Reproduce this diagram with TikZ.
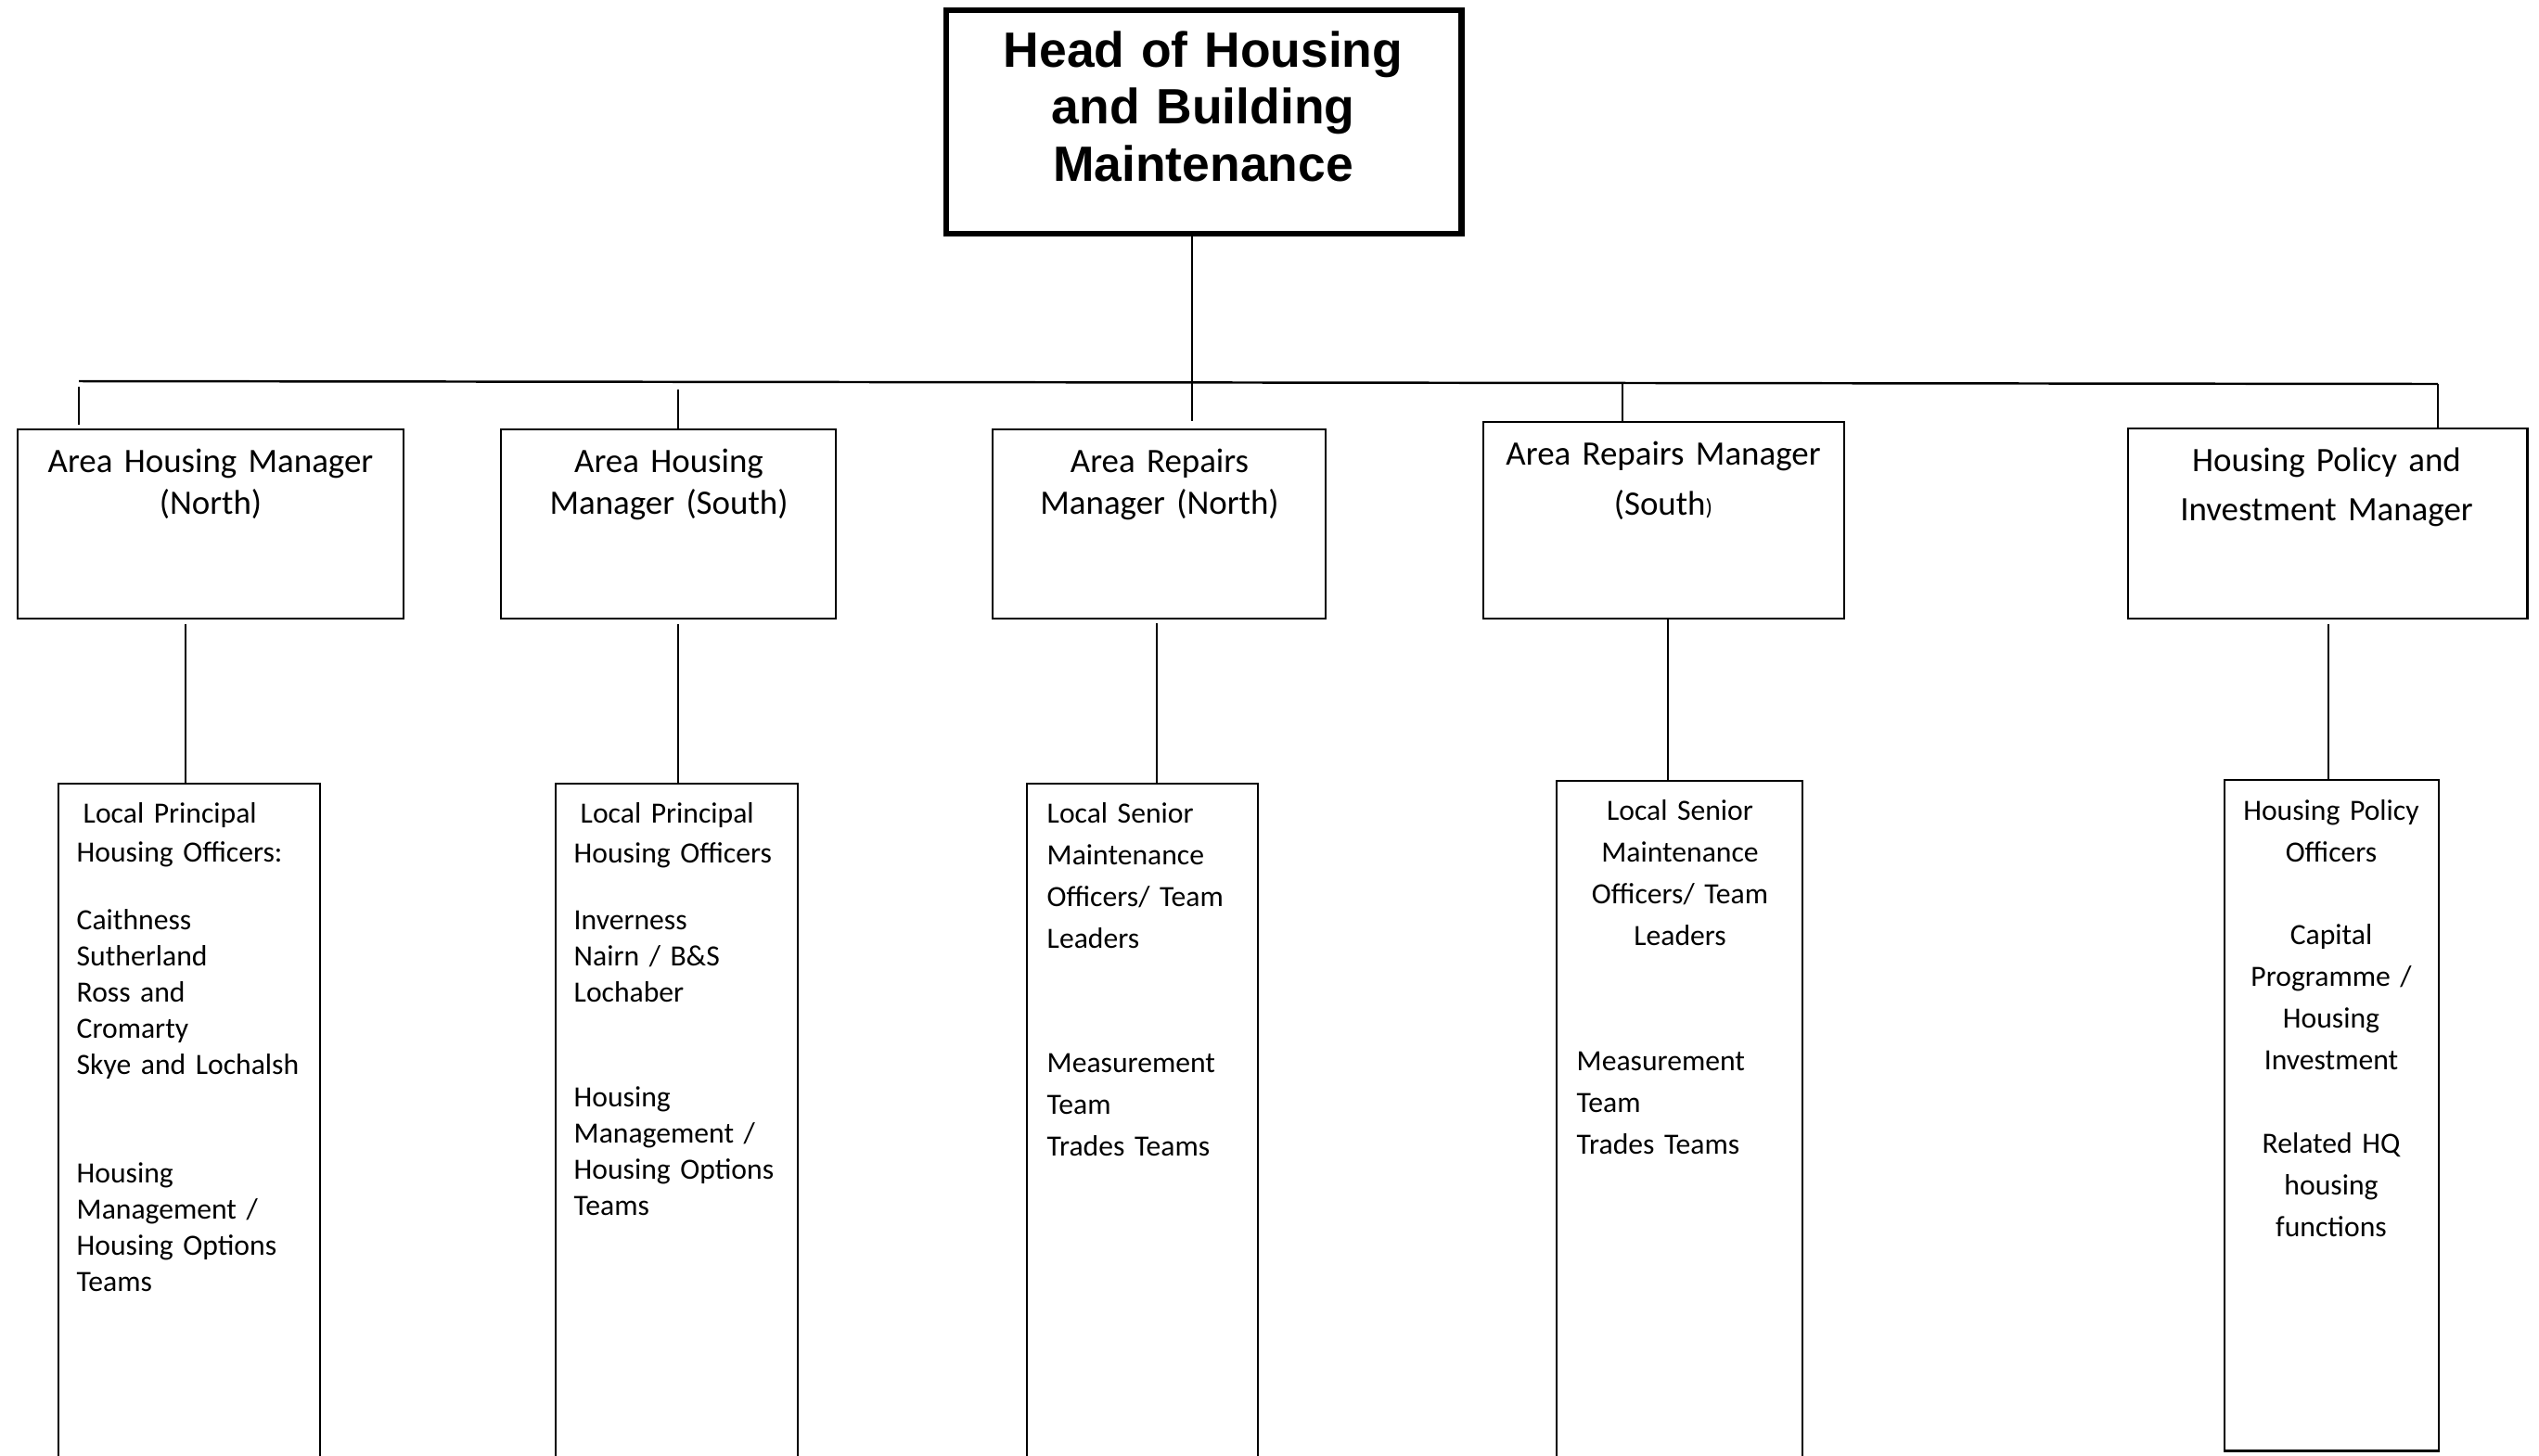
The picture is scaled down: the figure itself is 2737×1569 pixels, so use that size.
\documentclass[tikz,border=0pt]{standalone}
\usepackage{fontspec}
\setmainfont[WordSpace=0.85]{Carlito}
\newfontfamily\headfont{Liberation Sans}
\begin{document}
\begin{tikzpicture}[x=0.01cm,y=-0.01cm]
\tikzset{
  headbox/.style={draw, line width=1.9pt, inner sep=0pt, outer sep=0pt, anchor=north west},
  mgrbox/.style={draw, line width=0.7pt, inner sep=0pt, outer sep=0pt, anchor=north west},
  teambox/.style={draw, line width=0.65pt, inner sep=0pt, outer sep=0pt, anchor=north west},
  conn/.style={line width=0.55pt},
  barline/.style={line width=0.7pt},
  headtext/.style={font=\headfont\bfseries\fontsize{15.2}{17.6}\selectfont, align=center, text width=5.2cm, inner sep=0pt, anchor=base},
  mgrtext/.style={font=\fontsize{10.5}{12.8}\selectfont, align=center, text width=4cm, inner sep=0pt, anchor=base},
  teamtext/.style={font=\fontsize{9}{11.1}\selectfont, align=left, text width=3cm, inner sep=0pt, anchor=base west},
  teamtextwide/.style={font=\fontsize{9}{12.8}\selectfont, align=left, text width=3cm, inner sep=0pt, anchor=base west},
  teamtextc/.style={font=\fontsize{9}{12.8}\selectfont, align=center, text width=2.6cm, inner sep=0pt, anchor=base},
}
\useasboundingbox (0,0) rectangle (2737,1569);
\clip (0,0) rectangle (2737,1569);
\fill[white] (0,0) rectangle (2737,1569);

% head of service
\node[headbox, minimum width=5.55cm, minimum height=2.41cm] (head) at (1020,11) {};
\node[headtext] (headlbl) at (1297,72) {Head of Housing\\and Building\\Maintenance};

% manager boxes
\node[mgrbox, minimum width=4.16cm, minimum height=2.04cm] (m1) at (19,463) {};
\node[mgrbox, minimum width=3.61cm, minimum height=2.04cm] (m2) at (540,463) {};
\node[mgrbox, minimum width=3.59cm, minimum height=2.04cm] (m3) at (1070,463) {};
\node[mgrbox, minimum width=3.89cm, minimum height=2.12cm] (m4) at (1599,455) {};
\node[mgrbox, minimum width=4.30cm, minimum height=2.05cm] (m5) at (2294,462) {};

\node[mgrtext] (m1lbl) at (227,509) {Area Housing Manager\\(North)};
\node[mgrtext] (m2lbl) at (721,509) {Area Housing\\Manager (South)};
\node[mgrtext] (m3lbl) at (1250,509) {Area Repairs\\Manager (North)};
\node[mgrtext] (m4lbl) at (1793,501) {Area Repairs Manager\\[2.6pt](South{\fontsize{7}{8}\selectfont)}};
\node[mgrtext] (m5lbl) at (2508,508) {Housing Policy and\\[2.3pt]Investment Manager};

% team boxes
\node[teambox, minimum width=2.82cm, minimum height=7.6cm] (t1) at (63,845) {};
\node[teambox, minimum width=2.61cm, minimum height=7.6cm] (t2) at (599,845) {};
\node[teambox, minimum width=2.49cm, minimum height=7.6cm] (t3) at (1107,845) {};
\node[teambox, minimum width=2.65cm, minimum height=7.6cm] (t4) at (1678,842) {};
\node[teambox, minimum width=2.31cm, minimum height=7.23cm] (t5) at (2398,841) {};

\node[teamtext] (t1lbl) at (82,887) {\hspace*{2pt}Local Principal\\[1.1pt]Housing Officers:\\[9.4pt]Caithness\\Sutherland\\Ross and\\Cromarty\\Skye and Lochalsh\\[22.2pt]Housing\\Management /\\Housing Options\\Teams};
\node[teamtext] (t2lbl) at (618,887) {\hspace*{2pt}Local Principal\\[1.2pt]Housing Officers\\[9.4pt]Inverness\\Nairn / B\&S\\Lochaber\\[21pt]Housing\\Management /\\Housing Options\\Teams};
\node[teamtextwide] (t3lbl) at (1128,887) {Local Senior\\Maintenance\\Officers/ Team\\Leaders\\[25.3pt]Measurement\\Team\\Trades Teams};
\node[teamtextc] (t4lbla) at (1811,884) {Local Senior\\Maintenance\\Officers/ Team\\Leaders};
\node[teamtextwide] (t4lblb) at (1699,1154) {Measurement\\Team\\Trades Teams};
\node[teamtextc] (t5lbl) at (2513,884) {Housing Policy\\Officers\\[12.7pt]Capital\\Programme /\\Housing\\Investment\\[12.7pt]Related HQ\\housing\\functions};

% connectors from the head down to the horizontal bar
\coordinate (trunk) at (1285,454);
\coordinate (barL) at (85,411);
\coordinate (barR) at (2628,414);
\coordinate (d1top) at (85,417);
\coordinate (d1bot) at (85,458);
\coordinate (d2top) at (731,420);
\coordinate (d4top) at (1749,413);

\draw[conn] (head.south -| trunk) -- (trunk);
\draw[barline] (barL) -- (barR);
\draw[conn] (d1top) -- (d1bot);
\draw[conn] (d2top) -- (d2top |- m2.north);
\draw[conn] (d4top) -- (d4top |- m4.north);
\draw[conn] (barR) -- (barR |- m5.north);

% connectors from managers to their teams
\coordinate (u1) at (200,673);
\coordinate (u2) at (731,673);
\coordinate (u3) at (1247,672);
\coordinate (u4) at (1798,667);
\coordinate (u5) at (2510,673);
\draw[conn] (u1) -- (u1 |- t1.north);
\draw[conn] (u2) -- (u2 |- t2.north);
\draw[conn] (u3) -- (u3 |- t3.north);
\draw[conn] (u4) -- (u4 |- t4.north);
\draw[conn] (u5) -- (u5 |- t5.north);
\end{tikzpicture}
\end{document}
